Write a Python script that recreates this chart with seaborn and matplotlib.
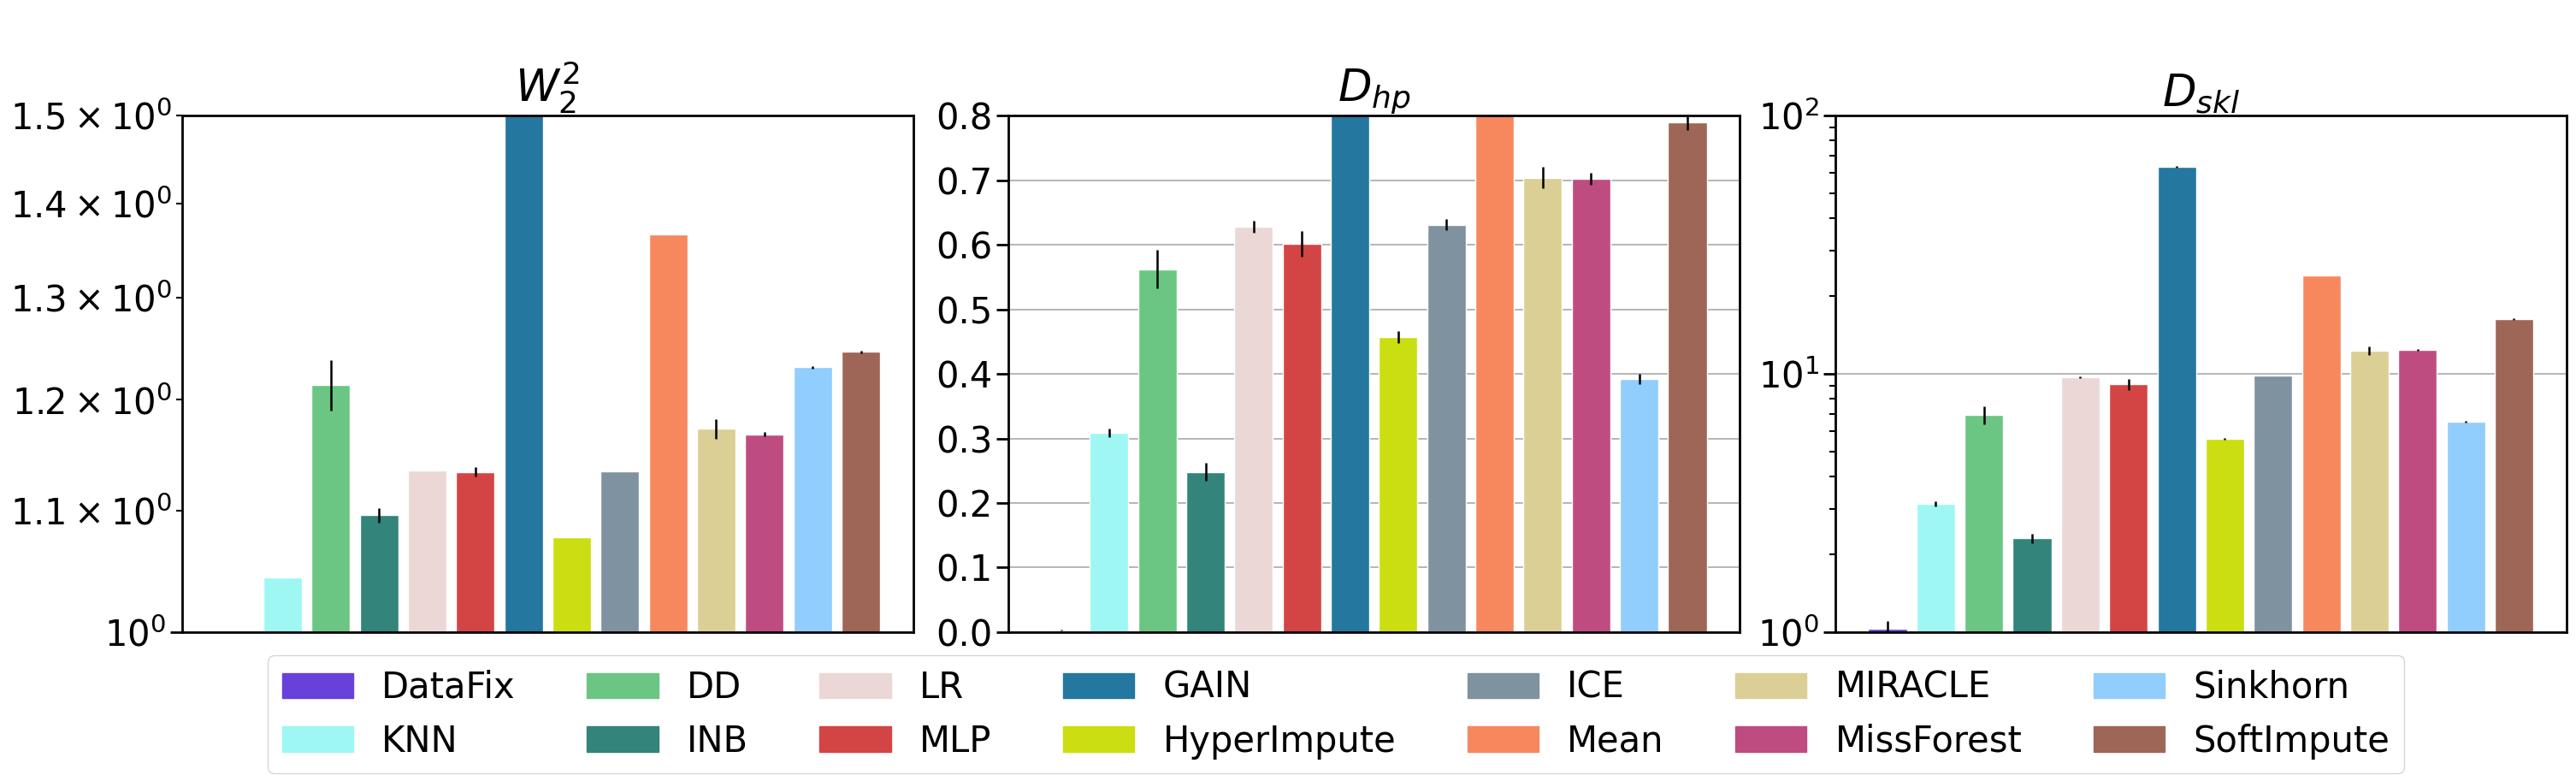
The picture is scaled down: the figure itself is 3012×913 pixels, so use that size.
import numpy as np
import pandas as pd
import matplotlib
matplotlib.use("Agg")
import matplotlib.pyplot as plt
import matplotlib.patches as mpatches
from matplotlib.ticker import MultipleLocator
import seaborn as sns

# methods in plotting order
methods = ["DataFix", "KNN", "DD", "INB", "LR", "MLP", "GAIN", "HyperImpute",
           "ICE", "Mean", "MIRACLE", "MissForest", "Sinkhorn", "SoftImpute"]
colors = ["#6741d9", "#9ef7f2", "#6bc684", "#33847a", "#ebd7d6", "#d34545",
          "#24779f", "#cade12", "#7f92a0", "#f7885e", "#dbcf95", "#bf4c80",
          "#91cdfd", "#9e6657"]

w2_mean = [0.93, 1.044, 1.214, 1.096, 1.135, 1.134, 1.70, 1.077,
           1.1345, 1.366, 1.173, 1.168, 1.231, 1.246]
w2_std = [0.0, 0.0, 0.024, 0.006, 0.0, 0.004, 0.0, 0.0,
          0.0, 0.0, 0.009, 0.002, 0.001, 0.001]

dhp_mean = [0.003, 0.309, 0.562, 0.248, 0.628, 0.601, 0.90, 0.457,
            0.631, 0.85, 0.704, 0.702, 0.392, 0.789]
dhp_std = [0.001, 0.0066, 0.030, 0.014, 0.009, 0.020, 0.01, 0.009,
           0.009, 0.01, 0.016, 0.009, 0.008, 0.011]

dskl_mean = [1.031, 3.14, 6.93, 2.31, 9.70, 9.12, 63.3, 5.60,
             9.85, 24.0, 12.3, 12.4, 6.53, 16.3]
dskl_std = [0.07, 0.07, 0.56, 0.10, 0.05, 0.45, 0.3, 0.03,
            0.03, 0.05, 0.5, 0.1, 0.05, 0.08]

panels = [
    (r"$W_2^2$", w2_mean, w2_std, True, (1.0, 1.5)),
    (r"$D_{hp}$", dhp_mean, dhp_std, False, (0.0, 0.8)),
    (r"$D_{skl}$", dskl_mean, dskl_std, True, (1.0, 100.0)),
]

sns.set_style("ticks")
plt.rcParams.update({
    "axes.edgecolor": "black",
    "xtick.color": "black",
    "ytick.color": "black",
    "text.color": "black",
    "axes.labelcolor": "black",
})

palette = dict(zip(methods, colors))

fig, axes = plt.subplots(1, 3, figsize=(30.12, 9.13), dpi=100)
fig.subplots_adjust(left=0.0706, right=0.9963, top=0.8521, bottom=0.1906,
                    wspace=0.13)

for ax, (title, mean, std, logy, ylim) in zip(axes, panels):
    df = pd.DataFrame({"method": methods, "value": mean})
    if logy:
        ax.set_yscale("log")
    sns.barplot(data=df, x="method", y="value", hue="method",
                palette=palette, order=methods, hue_order=methods,
                errorbar=None, width=0.8, saturation=1, legend=False, ax=ax)
    ax.errorbar(np.arange(len(methods)), mean, yerr=std, fmt="none",
                ecolor="black", elinewidth=1.8, capsize=0, zorder=4)
    n = len(methods)
    pad = 0.4 + 0.05 * (n - 1 + 0.8)
    ax.set_xlim(-pad, n - 1 + pad)
    ax.set_ylim(*ylim)
    if not logy:
        ax.yaxis.set_major_locator(MultipleLocator(0.1))
    ax.set_xticks([])
    ax.set_xlabel("")
    ax.set_ylabel("")
    ax.set_title(title, fontsize=37)
    ax.set_axisbelow(True)
    ax.grid(axis="y", which="major", color="#b0b0b0", linewidth=1.3)
    for sp in ax.spines.values():
        sp.set_visible(True)
        sp.set_color("black")
        sp.set_linewidth(2.0)
    ax.tick_params(axis="y", which="major", length=10, width=2,
                   labelsize=30)
    ax.tick_params(axis="y", which="minor", length=5, width=1.5,
                   labelsize=30)

handles = [mpatches.Patch(color=c, label=m) for m, c in zip(methods, colors)]
fig.legend(handles=handles, loc="upper center", ncol=7, fontsize=30,
           bbox_to_anchor=(0.5186, 0.161), borderaxespad=0, frameon=True)

fig.savefig("out.png", dpi=100)
